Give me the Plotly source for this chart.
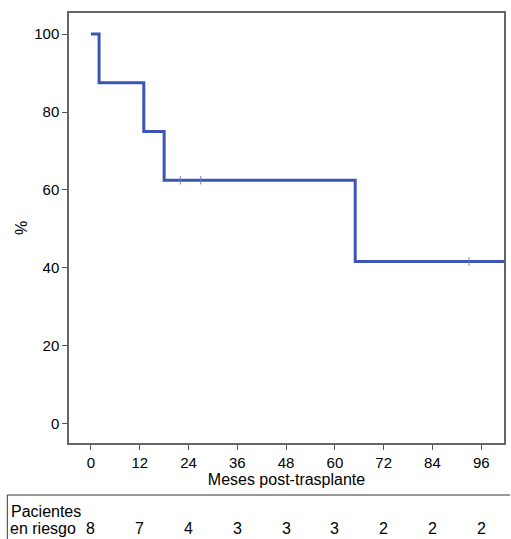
import plotly.graph_objects as go

# Kaplan-Meier data
event_times = [0, 2, 13, 18, 65, 101.6]
survival = [100, 87.5, 75, 62.5, 41.67, 41.67]
censor_times = [22, 27, 93]
censor_surv = [62.5, 62.5, 41.67]

# Number at risk
risk_times = [0, 12, 24, 36, 48, 60, 72, 84, 96]
risk_counts = [8, 7, 4, 3, 3, 3, 2, 2, 2]

x_ticks = [0, 12, 24, 36, 48, 60, 72, 84, 96]
y_ticks = [0, 20, 40, 60, 80, 100]

BLUE = "#3a55b5"
FONT = "Liberation Sans, Arial, Helvetica, sans-serif"

fig = go.Figure()
fig.add_trace(go.Scatter(
    x=event_times, y=survival, mode="lines", line_shape="hv",
    line=dict(color=BLUE, width=3), showlegend=False, hoverinfo="skip"))
fig.add_trace(go.Scatter(
    x=censor_times, y=censor_surv, mode="markers",
    marker=dict(symbol="line-ns", size=6, line=dict(color="#6f82c8", width=1)),
    showlegend=False, hoverinfo="skip"))

W, H = 511, 539
L, R, T, B = 69, 5, 13, 96
ph = H - T - B

def py(ypx):
    return 1 - (ypx - T) / ph

def px(xpx):
    return (xpx - L) / (W - L - R)

annotations = []
annotations.append(dict(text="Pacientes", xref="paper", yref="paper",
                        x=px(9), y=py(511), xanchor="left", yanchor="middle",
                        showarrow=False, font=dict(size=16)))
annotations.append(dict(text="en riesgo", xref="paper", yref="paper",
                        x=px(8), y=py(528), xanchor="left", yanchor="middle",
                        showarrow=False, font=dict(size=16)))
for t, c in zip(risk_times, risk_counts):
    annotations.append(dict(text=str(c), xref="x", yref="paper",
                            x=t, y=py(528), xanchor="center", yanchor="middle",
                            showarrow=False, font=dict(size=16)))

shapes = [
    dict(type="line", xref="paper", yref="paper", x0=px(7), x1=px(512),
         y0=py(495), y1=py(495), line=dict(color="#333", width=1)),
    dict(type="line", xref="paper", yref="paper", x0=px(7), x1=px(7),
         y0=py(495), y1=py(545), line=dict(color="#333", width=1)),
]

fig.update_layout(
    width=W, height=H,
    margin=dict(l=L, r=R, t=T, b=B),
    paper_bgcolor="white", plot_bgcolor="white",
    font=dict(family=FONT, size=15, color="black"),
    xaxis=dict(range=[-5.4, 101.6], tickvals=x_ticks, ticks="outside", ticklen=5,
               tickcolor="#555", showline=True, linecolor="#666", linewidth=1.5,
               mirror=True, showgrid=False, zeroline=False,
               tickfont=dict(size=15),
               title=dict(text="Meses post-trasplante", standoff=2, font=dict(size=16))),
    yaxis=dict(range=[-4.9, 105.4], tickvals=y_ticks, ticks="outside", ticklen=5,
               tickcolor="#555", showline=True, linecolor="#666", linewidth=1.5,
               mirror=True, showgrid=False, zeroline=False,
               tickfont=dict(size=15),
               title=dict(text="%", standoff=3, font=dict(size=16))),
    annotations=annotations, shapes=shapes,
)

fig.write_html("out.html", config={"displayModeBar": False},
               post_script="document.body.style.margin='0px';document.body.style.overflow='hidden';")
